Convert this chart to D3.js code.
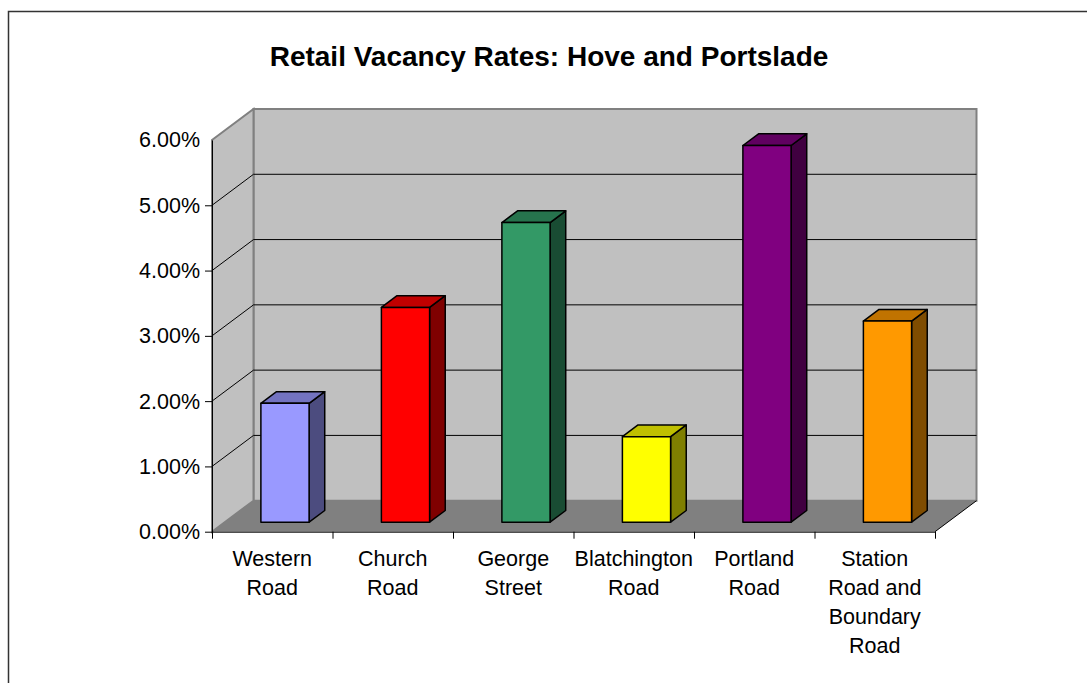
<!DOCTYPE html>
<html>
<head>
<meta charset="utf-8">
<script src="https://cdn.jsdelivr.net/npm/d3@7"></script>
<style>
  body { margin: 0; background: #fff; }
  text { font-family: "Liberation Sans", Arial, sans-serif; }
</style>
</head>
<body>
<script>
// data
var categories = ["Western Road", "Church Road", "George Street", "Blatchington Road", "Portland Road", "Station Road and Boundary Road"];
var labelLines = [["Western", "Road"], ["Church", "Road"], ["George", "Street"], ["Blatchington", "Road"], ["Portland", "Road"], ["Station", "Road and", "Boundary", "Road"]];
var vacancy = [0.0182, 0.0329, 0.0459, 0.0131, 0.0577, 0.0308];
var yTicks = [0, 0.01, 0.02, 0.03, 0.04, 0.05, 0.06];
var faceColors = ["#9999FF", "#FF0000", "#339966", "#FFFF00", "#800080", "#FF9900"];

var W = 1087, H = 683;
var svg = d3.select("body").append("svg")
    .attr("width", W)
    .attr("height", H);

// outer frame
svg.append("rect")
    .attr("x", 8.5).attr("y", 11.5)
    .attr("width", W).attr("height", H)
    .attr("fill", "#fff")
    .attr("stroke", "#333").attr("stroke-width", 1.5);

// plot area (front plane) and depth
var plotLeft = 212, plotRight = 935, plotTop = 140, plotBottom = 531.7;
var depthX = 41.5, depthY = -31;

var x = d3.scaleBand()
    .domain(categories)
    .range([plotLeft, plotRight]);

var xEdges = d3.scaleLinear()
    .domain([0, categories.length])
    .range([plotLeft, plotRight]);

var y = d3.scaleLinear()
    .domain([0, 0.06])
    .range([plotBottom, plotTop]);

function proj(px, py, f) {
  return [px + f * depthX, py + f * depthY];
}
function poly(pts) {
  return "M" + pts.map(function(p) { return p[0] + "," + p[1]; }).join("L") + "Z";
}

// back wall
svg.append("path")
    .attr("d", poly([proj(plotLeft, y(0.06), 1), proj(plotRight, y(0.06), 1), proj(plotRight, y(0), 1), proj(plotLeft, y(0), 1)]))
    .attr("fill", "#C0C0C0")
    .attr("stroke", "#808080").attr("stroke-width", 2);

// side wall
svg.append("path")
    .attr("d", poly([[plotLeft, y(0.06)], proj(plotLeft, y(0.06), 1), proj(plotLeft, y(0), 1), [plotLeft, y(0)]]))
    .attr("fill", "#C0C0C0")
    .attr("stroke", "#808080").attr("stroke-width", 2);

// gridlines
var grid = svg.append("g");
yTicks.filter(function(t) { return t > 0 && t < 0.06; }).forEach(function(t) {
  var a = [plotLeft, y(t)], b = proj(plotLeft, y(t), 1), c = proj(plotRight, y(t), 1);
  grid.append("path")
      .attr("d", "M" + a + "L" + b + "L" + c)
      .attr("fill", "none")
      .attr("stroke", "#000").attr("stroke-width", 1);
});

// floor
svg.append("path")
    .attr("d", poly([[plotLeft, y(0)], [plotRight, y(0)], proj(plotRight, y(0), 1), proj(plotLeft, y(0), 1)]))
    .attr("fill", "#808080")
    .attr("stroke", "none");
svg.append("path")
    .attr("d", "M" + [plotRight, y(0)] + "L" + proj(plotRight, y(0), 1))
    .attr("stroke", "#000").attr("stroke-width", 1);

// bars
var f1 = 0.307, f2 = 0.684;
var bars = svg.append("g");
categories.forEach(function(cat, i) {
  var bw = x.bandwidth();
  var x0 = x(cat) + bw * 0.3, x1 = x(cat) + bw * 0.7;
  var h = y(0) - y(vacancy[i]);
  var fb = proj(x0, y(0), f1), fr = proj(x1, y(0), f1);
  var ft = [fb[0], fb[1] - h], frt = [fr[0], fr[1] - h];
  var bb = proj(x1, y(0), f2), bt = [bb[0], bb[1] - h];
  var blt = proj(x0, y(0), f2); blt = [blt[0], blt[1] - h];
  var base = d3.color(faceColors[i]);
  var g = bars.append("g")
      .attr("stroke", "#000").attr("stroke-width", 1.5).attr("stroke-linejoin", "round");
  // side
  g.append("path")
      .attr("d", poly([fr, bb, bt, frt]))
      .attr("fill", base.darker(1.95));
  // top
  g.append("path")
      .attr("d", poly([ft, frt, bt, blt]))
      .attr("fill", base.darker(0.8));
  // front
  g.append("path")
      .attr("d", poly([fb, fr, frt, ft]))
      .attr("fill", faceColors[i]);
});

// y axis
var yAxis = svg.append("g")
    .attr("transform", "translate(" + plotLeft + ",0)")
    .call(d3.axisLeft(y)
      .tickValues(yTicks)
      .tickFormat(d3.format(".2%"))
      .tickSize(7)
      .tickSizeOuter(0)
      .tickPadding(5));
yAxis.select(".domain").attr("stroke", "#000");
yAxis.selectAll(".tick text")
    .attr("font-size", 21.5)
    .attr("font-family", "Liberation Sans, Arial, sans-serif")
    .attr("fill", "#000");
yAxis.selectAll(".tick line")
    .attr("stroke", function(d) { return d === 0.06 ? "none" : "#000"; });

// x axis
var xAxis = svg.append("g")
    .attr("transform", "translate(0," + plotBottom + ")")
    .call(d3.axisBottom(xEdges)
      .tickValues(d3.range(categories.length + 1))
      .tickFormat("")
      .tickSize(7)
      .tickSizeOuter(0));
xAxis.select(".domain").attr("stroke", "#000");
xAxis.selectAll(".tick line").attr("stroke", "#000");

// category labels
categories.forEach(function(cat, i) {
  var t = svg.append("text")
      .attr("text-anchor", "middle")
      .attr("font-size", 21.5)
      .attr("fill", "#000");
  labelLines[i].forEach(function(line, j) {
    t.append("tspan")
        .attr("x", x(cat) + x.bandwidth() / 2)
        .attr("y", 566 + j * 29)
        .text(line);
  });
});

// title
svg.append("text")
    .attr("x", 549)
    .attr("y", 66)
    .attr("text-anchor", "middle")
    .attr("font-size", 28)
    .attr("font-weight", "bold")
    .attr("fill", "#000")
    .text("Retail Vacancy Rates: Hove and Portslade");
</script>
</body>
</html>
